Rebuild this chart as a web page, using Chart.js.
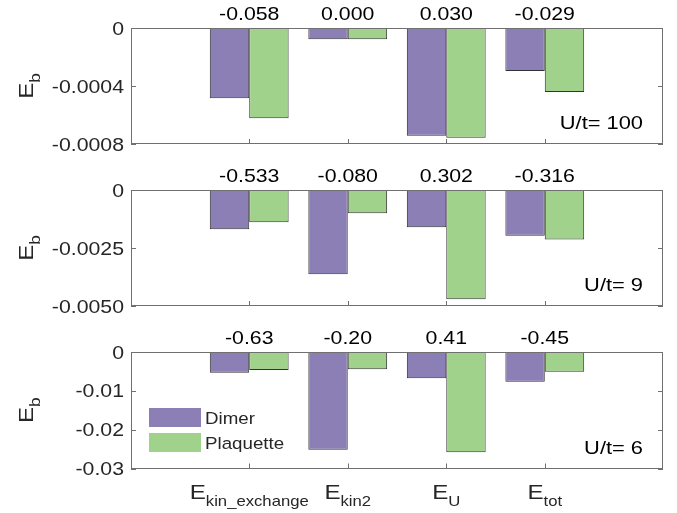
<!DOCTYPE html>
<html>
<head>
<meta charset="utf-8">
<script src="https://cdn.jsdelivr.net/npm/chart.js@4.4.1/dist/chart.umd.min.js"></script>
<style>
body { margin: 0; background: #fff; width: 677px; height: 513px; overflow: hidden; position: relative; }
.panel { position: absolute; left: 0; width: 677px; }
</style>
</head>
<body>
<div class="panel" style="top:0;height:160px"><canvas id="c100"></canvas></div>
<div class="panel" style="top:160px;height:165px"><canvas id="c9"></canvas></div>
<div class="panel" style="top:325px;height:188px"><canvas id="c6"></canvas></div>
<script>
// categories (subscripts of E) and series names
const categories = ['kin_exchange', 'kin2', 'U', 'tot'];
const seriesNames = ['Dimer', 'Plaquette'];

// U/t = 100
const dimer100 = [-0.000484, -0.000078, -0.000743, -0.000297];
const plaq100  = [-0.000623, -0.000078, -0.000757, -0.000441];
const ratio100 = ['-0.058', '0.000', '0.030', '-0.029'];
const yTicks100 = [0, -0.0004, -0.0008];
const yLabels100 = ['0', '-0.0004', '-0.0008'];

// U/t = 9
const dimer9 = [-0.00169, -0.00363, -0.00161, -0.00197];
const plaq9  = [-0.00139, -0.00100, -0.00471, -0.00213];
const ratio9 = ['-0.533', '-0.080', '0.302', '-0.316'];
const yTicks9 = [0, -0.0025, -0.005];
const yLabels9 = ['0', '-0.0025', '-0.0050'];

// U/t = 6
const dimer6 = [-0.00532, -0.0252, -0.00677, -0.00763];
const plaq6  = [-0.00463, -0.00446, -0.0258, -0.00506];
const ratio6 = ['-0.63', '-0.20', '0.41', '-0.45'];
const yTicks6 = [0, -0.01, -0.02, -0.03];
const yLabels6 = ['0', '-0.01', '-0.02', '-0.03'];

const colors = ['#8c7fb5', '#a0d28b'];
const FONT = '"Liberation Sans", Arial, sans-serif';
const SX = 1.15; // glyphs in the figure are a bit wider than Arial

// draw horizontally stretched text
function txt(ctx, s, x, y, size, align, color) {
    ctx.save();
    ctx.font = size + 'px ' + FONT;
    ctx.fillStyle = color;
    ctx.textBaseline = 'alphabetic';
    const w = ctx.measureText(s).width * SX;
    let left = x;
    if (align === 'center') left = x - w / 2;
    else if (align === 'right') left = x - w;
    ctx.translate(left, y);
    ctx.scale(SX, 1);
    ctx.textAlign = 'left';
    ctx.fillText(s, 0, 0);
    ctx.restore();
    return w;
}

function width(ctx, s, size) {
    ctx.font = size + 'px ' + FONT;
    return ctx.measureText(s).width * SX;
}

function makePanel(id, dimer, plaq, ratios, yTicks, yLabels, uLabel, pad, bottomPanel) {
    const decor = {
        id: 'decor',
        afterDraw(chart) {
            const ctx = chart.ctx;
            const a = chart.chartArea;
            const xs = chart.scales.x, ys = chart.scales.y;
            // frame
            ctx.save();
            ctx.strokeStyle = '#707070';
            ctx.lineWidth = 1;
            ctx.strokeRect(Math.round(a.left) + 0.5, Math.round(a.top) + 0.5,
                Math.round(a.right - a.left) - 1, Math.round(a.bottom - a.top) - 1);
            // y ticks, both sides, inward
            ctx.beginPath();
            yTicks.forEach(v => {
                const py = Math.round(ys.getPixelForValue(v)) + 0.5;
                ctx.moveTo(a.left, py); ctx.lineTo(a.left + 5, py);
                ctx.moveTo(a.right, py); ctx.lineTo(a.right - 5, py);
            });
            // x ticks, bottom, inward
            categories.forEach((c, i) => {
                const px = Math.round(xs.getPixelForValue(i + 1)) + 0.5;
                ctx.moveTo(px, a.bottom); ctx.lineTo(px, a.bottom - 5);
            });
            ctx.stroke();
            ctx.restore();

            // y tick labels
            yTicks.forEach((v, i) => {
                txt(ctx, yLabels[i], a.left - 7, ys.getPixelForValue(v) + 6.5, 18.5, 'right', '#262626');
            });

            // numbers above the groups
            ratios.forEach((r, i) => {
                txt(ctx, r, xs.getPixelForValue(i + 1), a.top - 8, 18.5, 'center', '#000');
            });

            // U/t label
            txt(ctx, uLabel, a.right - 20, a.bottom - 15, 19, 'right', '#000');

            // y title E_b
            ctx.save();
            const midY = (a.top + a.bottom) / 2;
            ctx.translate(33, midY);
            ctx.rotate(-Math.PI / 2);
            const wE = width(ctx, 'E', 21), wb = width(ctx, 'b', 15);
            const x0 = -(wE + wb) / 2;
            txt(ctx, 'E', x0, 0, 21, 'left', '#262626');
            txt(ctx, 'b', x0 + wE, 7, 15, 'left', '#262626');
            ctx.restore();

            if (bottomPanel) {
                // category labels E_sub
                categories.forEach((c, i) => {
                    const cx = xs.getPixelForValue(i + 1);
                    const wE2 = width(ctx, 'E', 21), ws = width(ctx, c, 14.5);
                    const l = cx - (wE2 + ws) / 2;
                    txt(ctx, 'E', l, a.bottom + 30, 21, 'left', '#262626');
                    txt(ctx, c, l + wE2, a.bottom + 37, 14.5, 'left', '#262626');
                });
                // legend
                chart.data.datasets.forEach((ds, i) => {
                    const top = a.top + 56 + i * 25;
                    ctx.fillStyle = ds.backgroundColor;
                    ctx.fillRect(a.left + 18, top, 52, 19);
                    txt(ctx, ds.label, a.left + 74, top + 15.5, 16.3, 'left', '#262626');
                });
            }
        }
    };

    return new Chart(document.getElementById(id), {
        type: 'bar',
        data: {
            datasets: [
                { label: seriesNames[0], data: dimer.map((v, i) => ({ x: i + 1, y: v })),
                  backgroundColor: colors[0] },
                { label: seriesNames[1], data: plaq.map((v, i) => ({ x: i + 1, y: v })),
                  backgroundColor: colors[1] }
            ]
        },
        options: {
            responsive: true,
            maintainAspectRatio: false,
            animation: false,
            layout: { padding: { top: pad[0], bottom: pad[1], left: 0, right: 14 } },
            datasets: {
                bar: {
                    borderColor: '#333333',
                    borderWidth: 1,
                    borderSkipped: false,
                    categoryPercentage: 0.8,
                    barPercentage: 1
                }
            },
            scales: {
                x: { type: 'linear', min: -0.2, max: 5.2, offset: false, display: false },
                y: {
                    min: yTicks[yTicks.length - 1], max: 0,
                    grid: { display: false, drawTicks: false },
                    border: { display: false },
                    ticks: { display: false },
                    afterFit: s => { s.width = 131; }
                }
            },
            plugins: { legend: { display: false }, tooltip: { enabled: false } }
        },
        plugins: [decor]
    });
}

makePanel('c100', dimer100, plaq100, ratio100, yTicks100, yLabels100, 'U/t= 100', [28, 16], false);
makePanel('c9', dimer9, plaq9, ratio9, yTicks9, yLabels9, 'U/t= 9', [30, 19], false);
makePanel('c6', dimer6, plaq6, ratio6, yTicks6, yLabels6, 'U/t= 6', [27, 44.5], true);
</script>
</body>
</html>
